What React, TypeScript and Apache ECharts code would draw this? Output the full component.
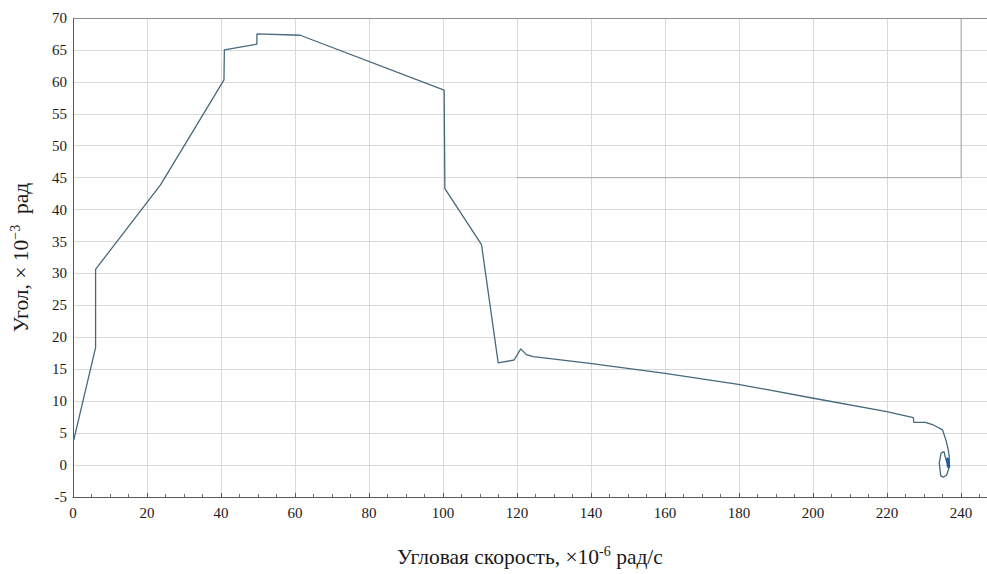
import React, { useEffect, useRef } from "react";
import * as echarts from "echarts";

// Angular velocity (×10⁻⁶ rad/s) along the trajectory
const speed = [
  0.2, 6.1, 6.1, 23.7, 40.8, 40.9, 49.7, 49.7, 61.4, 100.3, 100.5, 110.4, 114.9,
  119.2, 121.0, 122.5, 124.4, 139.7, 160.0, 179.8, 200.1, 219.9, 227.1, 227.2,
  230.3, 232.5, 235.0, 235.9, 236.5, 236.8, 236.8, 236.1, 235.2, 234.5, 234.1,
  234.6, 235.4, 235.7, 236.2,
];
// Angle (×10⁻³ rad) at the same moments
const angle = [
  3.9, 18.4, 30.65, 43.9, 60.3, 65.0, 65.9, 67.5, 67.3, 58.7, 43.3, 34.5, 16.0,
  16.45, 18.2, 17.3, 16.97, 15.93, 14.37, 12.65, 10.46, 8.36, 7.42, 6.7, 6.7,
  6.28, 5.5, 3.9, 2.5, 1.3, -0.3, -1.55, -1.9, -1.7, 0.3, 1.9, 2.1, 1.3, 0.3,
];

// Settled end state (dense cluster of points)
const endSpeed = [236.4, 236.6];
const endAngle = [0.9, -0.2];

// Darker panel edges inside the plot area
const panelX = [120, 240, 240];
const panelY = [45, 45, 70];

const xTicks = { min: 0, max: 247, step: 20 };
const yTicks = { min: -5, max: 70, step: 5 };

const zip = (a: number[], b: number[]) => a.map((v, i) => [v, b[i]]);

const serif = "Liberation Serif";

const titleStyle = {
  fontFamily: serif,
  fontSize: 21.5,
  lineHeight: 25,
  color: "#1a1a1a",
  rich: {
    sup: {
      fontFamily: serif,
      fontSize: 14,
      lineHeight: 15,
      verticalAlign: "top",
      color: "#1a1a1a",
    },
  },
};

export default function App() {
  const ref = useRef<HTMLDivElement>(null);

  useEffect(() => {
    if (!ref.current) return;
    const chart = echarts.init(ref.current, undefined, { renderer: "svg" });
    chart.setOption({
      animation: false,
      backgroundColor: "#ffffff",
      textStyle: { fontFamily: serif },
      grid: { left: 73, right: 0, top: 18, bottom: 77, containLabel: false },
      xAxis: {
        type: "value",
        min: xTicks.min,
        max: xTicks.max,
        interval: xTicks.step,
        name: "Угловая скорость, ×10{sup|-6} рад/с",
        nameLocation: "middle",
        nameGap: 47,
        nameTextStyle: titleStyle,
        axisLine: { show: true, onZero: false, lineStyle: { color: "#5a5a5a", width: 1 } },
        axisTick: { show: true, inside: true, length: 4, lineStyle: { color: "#5a5a5a" } },
        minorTick: { show: true, splitNumber: 4, length: 3, lineStyle: { color: "#6a6a6a" } },
        axisLabel: {
          fontFamily: serif,
          fontSize: 15,
          color: "#1a1a1a",
          margin: 8,
          showMaxLabel: false,
        },
        splitLine: { show: true, lineStyle: { color: "#d9d9d9", width: 1 } },
      },
      yAxis: {
        type: "value",
        min: yTicks.min,
        max: yTicks.max,
        interval: yTicks.step,
        name: "Угол, × 10{sup|−3}  рад",
        nameLocation: "middle",
        nameRotate: 90,
        nameGap: 40,
        nameTextStyle: titleStyle,
        axisLine: { show: true, onZero: false, lineStyle: { color: "#5a5a5a", width: 1 } },
        axisTick: { show: false },
        axisLabel: { fontFamily: serif, fontSize: 15, color: "#1a1a1a", margin: 6 },
        splitLine: { show: true, lineStyle: { color: "#d9d9d9", width: 1 } },
      },
      series: [
        {
          name: "panel",
          type: "line",
          data: zip(panelX, panelY),
          symbol: "none",
          silent: true,
          lineStyle: { color: "#a8a8a8", width: 1 },
          markLine: {
            silent: true,
            symbol: "none",
            label: { show: false },
            lineStyle: { color: "#8f8f8f", width: 1.2, type: "solid" },
            data: [{ yAxis: yTicks.max }],
          },
        },
        {
          name: "trajectory",
          type: "line",
          data: zip(speed, angle),
          symbol: "none",
          lineStyle: { color: "#46697c", width: 1.3 },
        },
        {
          name: "end",
          type: "line",
          data: zip(endSpeed, endAngle),
          symbol: "none",
          lineStyle: { color: "#1f5ea8", width: 3.5, cap: "round" },
        },
      ],
    });
    return () => chart.dispose();
  }, []);

  return (
    <div
      ref={ref}
      style={{ position: "fixed", left: 0, top: 0, width: 987, height: 574 }}
    />
  );
}
